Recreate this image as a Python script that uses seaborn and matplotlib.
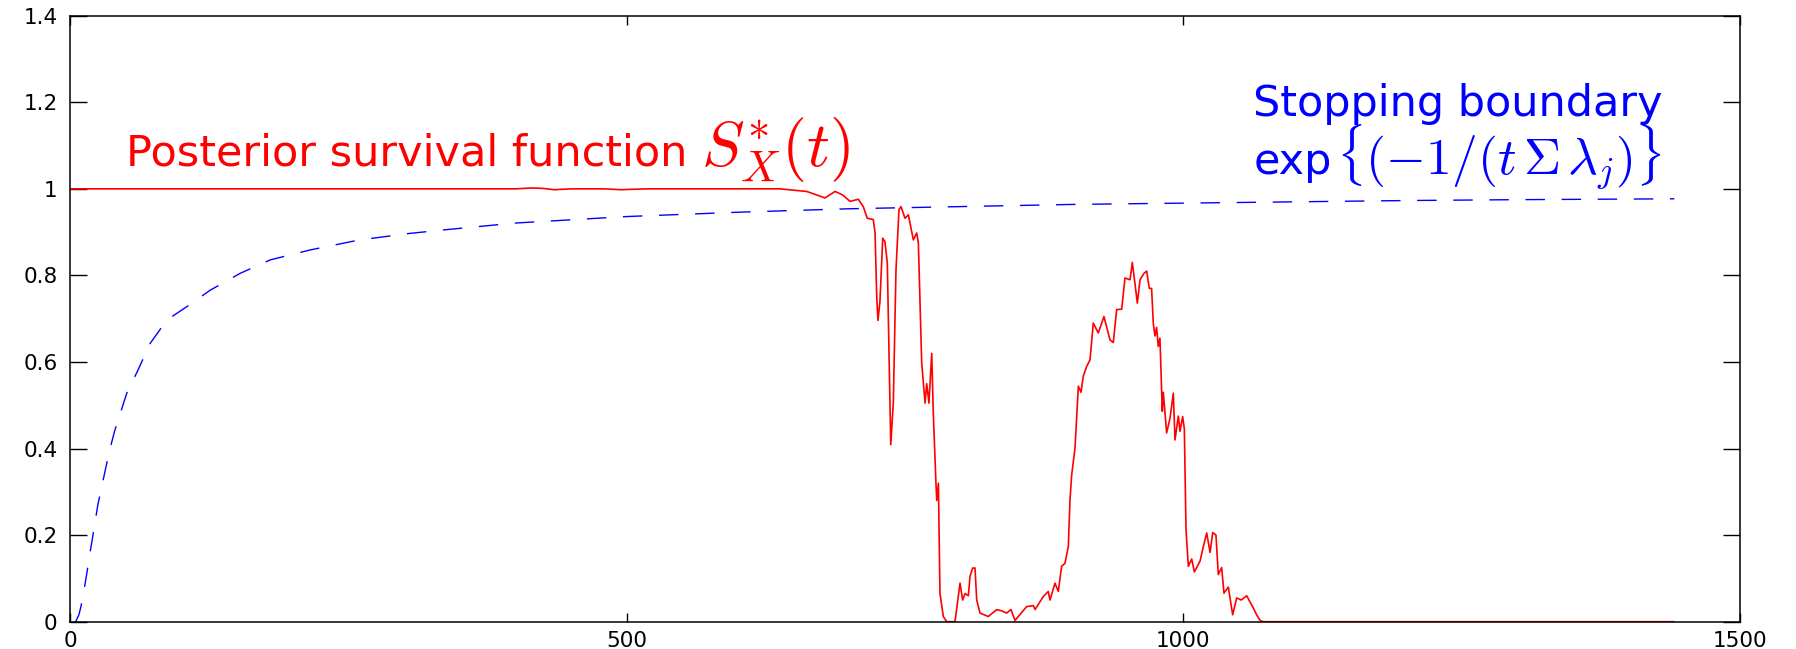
import numpy as np
import pandas as pd
import matplotlib
matplotlib.use("Agg")
import matplotlib.pyplot as plt
import seaborn as sns

# ---- data ----
surv_t = [0, 400, 415, 425, 435, 450, 480, 495, 505, 520, 600, 637.7, 661.7, 678.1, 687.1,
          694, 700.6, 708.1, 712.5, 716.1, 721.5, 723.1, 724.6, 725.7, 727.5, 730, 732,
          734.1, 735.6, 737.2, 739.5, 741.9, 744.6, 746.4, 750, 753, 757.5, 760.5, 762,
          765, 768, 769.5, 771.5, 774, 775.4, 777.8, 778.5, 780, 781.4, 784.4, 787.5,
          794.9, 799.4, 801.8, 803.9, 806.9, 808.4, 810.8, 812.9, 814.4, 817.4, 824.8,
          832.4, 836.9, 841.3, 845.2, 848.8, 859.3, 865.3, 866.8, 874.2, 878.7, 880.2,
          884.7, 887.7, 890.7, 893.7, 896.7, 898.2, 899.7, 902.7, 905.7, 908.1, 910.1,
          913.2, 916.2, 919.1, 923.6, 928.7, 934.1, 937.1, 940.1, 944.6, 947.6, 952.1,
          954.2, 956.6, 958.7, 961.1, 964.7, 967.1, 969.4, 971.5, 973, 974.5, 976, 977.5,
          979, 981.1, 982, 985, 988, 991, 992.5, 995.5, 997, 999.4, 1000.9, 1002.4,
          1004.5, 1007.5, 1009.9, 1015, 1018, 1021, 1024, 1026.4, 1029.3, 1031.4, 1034.4,
          1036.5, 1040.4, 1044.3, 1047.9, 1052, 1056.9, 1060, 1062.8, 1066, 1068.9, 1071.8,
          1441]
surv_s = [1.0, 1.0, 1.002, 1.001, 0.998, 1.0, 1.0, 0.998, 0.999, 1.0, 1.0, 1.0, 0.994, 0.979,
          0.994, 0.986, 0.971, 0.976, 0.959, 0.932, 0.929, 0.898, 0.751, 0.696, 0.74, 0.886,
          0.878, 0.829, 0.628, 0.409, 0.505, 0.813, 0.952, 0.959, 0.932, 0.94, 0.882, 0.898,
          0.875, 0.598, 0.505, 0.55, 0.505, 0.62, 0.482, 0.32, 0.28, 0.32, 0.066, 0.012, 0.0,
          0.0, 0.089, 0.05, 0.065, 0.06, 0.105, 0.124, 0.124, 0.05, 0.02, 0.012, 0.028, 0.025,
          0.02, 0.028, 0.003, 0.035, 0.037, 0.028, 0.058, 0.07, 0.05, 0.089, 0.07, 0.128,
          0.135, 0.174, 0.282, 0.339, 0.401, 0.544, 0.53, 0.567, 0.59, 0.605, 0.69, 0.667,
          0.705, 0.651, 0.645, 0.721, 0.722, 0.794, 0.79, 0.83, 0.78, 0.736, 0.79, 0.805,
          0.81, 0.77, 0.77, 0.69, 0.66, 0.68, 0.636, 0.655, 0.486, 0.53, 0.436, 0.47, 0.528,
          0.42, 0.475, 0.44, 0.474, 0.445, 0.213, 0.128, 0.145, 0.115, 0.14, 0.174, 0.205,
          0.16, 0.206, 0.2, 0.109, 0.125, 0.066, 0.08, 0.016, 0.055, 0.05, 0.06, 0.045,
          0.032, 0.015, 0.003, 0.0, 0.0]

bound_t = [5, 8, 10, 12, 15, 18, 20, 25, 30, 35, 40, 45, 51, 61, 72, 87, 105, 126, 153, 180,
           216, 260, 305, 335, 400, 500, 600, 700, 800, 900, 1000, 1100, 1200, 1300, 1441]
bound_s = [0.0, 0.016, 0.037, 0.064, 0.11, 0.16, 0.19, 0.27, 0.33, 0.39, 0.44, 0.48, 0.528,
           0.581, 0.643, 0.697, 0.728, 0.766, 0.805, 0.836, 0.859, 0.882, 0.897, 0.905,
           0.921, 0.936, 0.946, 0.954, 0.959, 0.964, 0.967, 0.970, 0.973, 0.975, 0.977]

x_ticks = [0, 500, 1000, 1500]
y_ticks = [0, 0.2, 0.4, 0.6, 0.8, 1.0, 1.2, 1.4]
y_labels = ["0", "0.2", "0.4", "0.6", "0.8", "1", "1.2", "1.4"]

surv_df = pd.DataFrame({"t": surv_t, "S": surv_s})
bound_df = pd.DataFrame({"t": bound_t, "B": bound_s})

sns.set_style("ticks")
plt.rcParams["font.family"] = ["DejaVu Sans"]
plt.rcParams["mathtext.fontset"] = "cm"

fig = plt.figure(figsize=(17.96, 6.49), dpi=100)
ax = fig.add_axes([0.03898, 0.04206, 0.92984, 0.93374])

sns.lineplot(data=bound_df, x="t", y="B", ax=ax, color="blue", lw=1.0,
             estimator=None, sort=False)
ax.lines[-1].set_dashes((14, 12))
sns.lineplot(data=surv_df, x="t", y="S", ax=ax, color="red", lw=1.2,
             estimator=None, sort=False)

ax.set_xlim(0, 1500)
ax.set_ylim(0, 1.4)
ax.set_xticks(x_ticks)
ax.set_xticklabels([str(v) for v in x_ticks])
ax.set_yticks(y_ticks)
ax.set_yticklabels(y_labels)
ax.set_xlabel("")
ax.set_ylabel("")
for s in ax.spines.values():
    s.set_visible(True)
    s.set_linewidth(1.1)
    s.set_color("black")
ax.tick_params(axis="both", direction="in", top=True, right=True, labelsize=15.5,
               width=1.0, colors="black")
ax.tick_params(axis="y", length=12, pad=9)
ax.tick_params(axis="x", length=6.5, pad=7)

SANS = 31
t1 = ax.text(50, 1.053, "Posterior survival function", color="red",
             fontsize=SANS, ha="left", va="baseline")
t2 = ax.text(1063, 1.168, "Stopping boundary", color="blue", fontsize=SANS,
             ha="left", va="baseline")
t3 = ax.text(1063, 1.034, "exp", color="blue", fontsize=SANS,
             ha="left", va="baseline")

fig.canvas.draw()
inv = ax.transData.inverted()

def right_edge(txt, gap_px):
    bb = txt.get_window_extent()
    return inv.transform((bb.x1 + gap_px, bb.y0))[0]

ax.text(right_edge(t1, 14), 1.053, r"$S_X^{*}(t)$", color="red",
        fontsize=46, ha="left", va="baseline")
ax.text(right_edge(t3, 4), 1.034, r"$\{(-1/(t\,\Sigma\,\lambda_j)\}$", color="blue",
        fontsize=37, ha="left", va="baseline")

fig.savefig("out.png", dpi=100)
